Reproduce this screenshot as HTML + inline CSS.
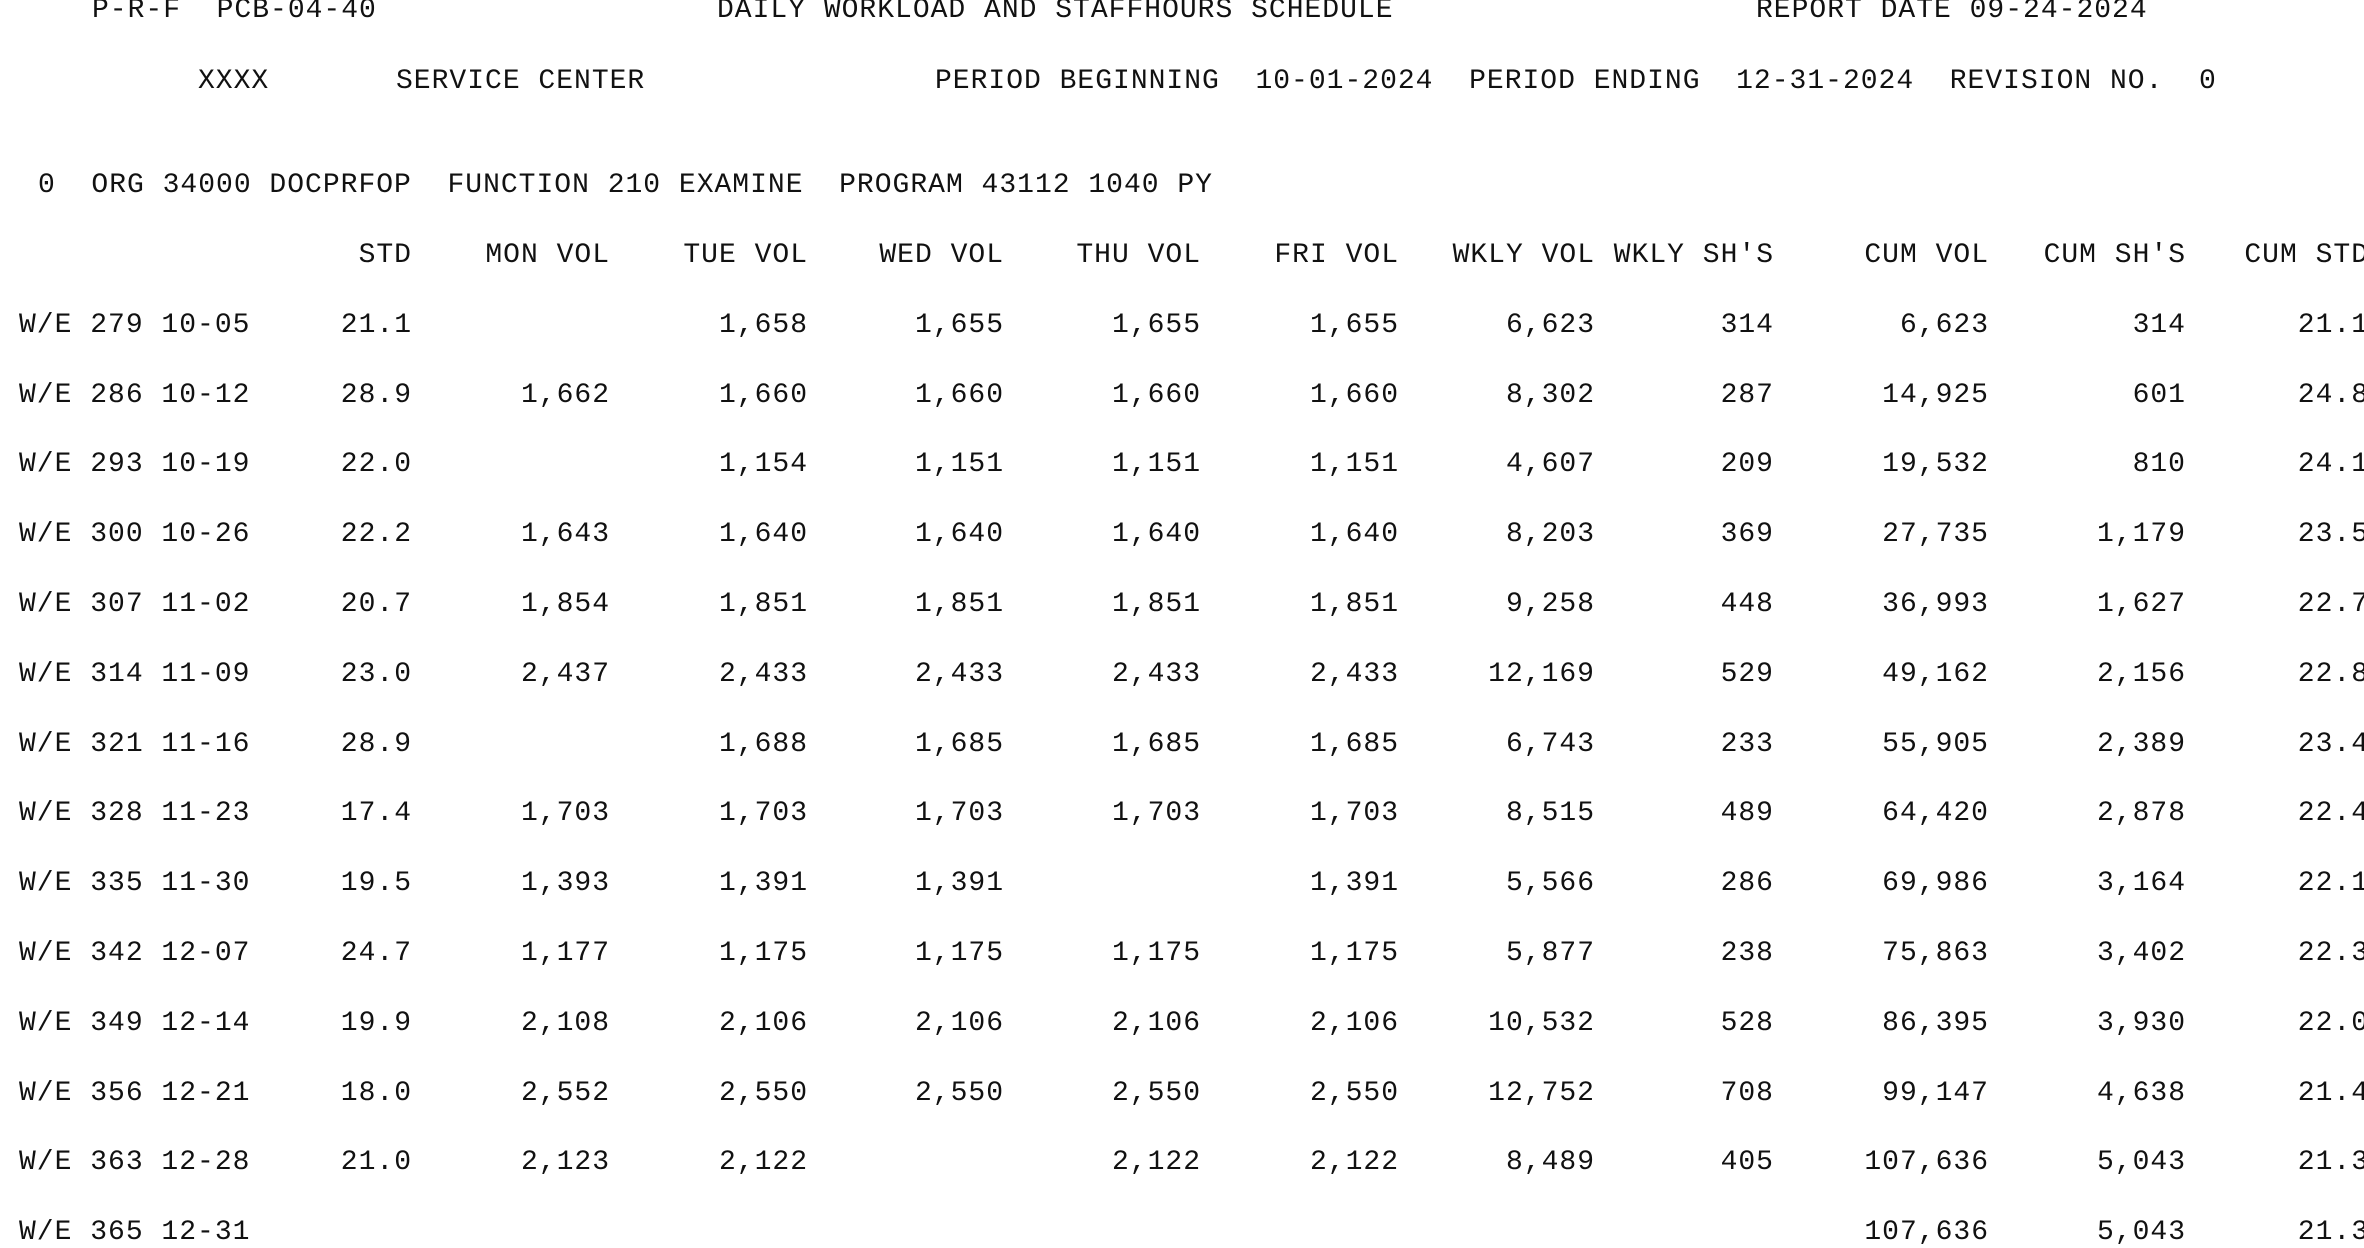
<!DOCTYPE html>
<html><head><meta charset="utf-8"><style>
html,body{margin:0;padding:0;background:#fff;}
body{width:2364px;height:1246px;position:relative;overflow:hidden;font-family:"Liberation Mono",monospace;font-size:28px;letter-spacing:1px;color:#111;}
.r{position:absolute;left:0;width:2364px;height:30px;line-height:30px;white-space:pre;}
.r span{position:absolute;top:0;}
.l0{left:19px}
.c1{right:1952px}.c2{right:1754px}.c3{right:1556px}.c4{right:1360px}.c5{right:1163px}.c6{right:965px}.c7{right:769px}.c8{right:590px}.c9{right:375px}.c10{right:178px}.c11{right:-5px}
</style></head><body>
<div class="r" style="top:-4px"><span style="left:92px">P-R-F  PCB-04-40</span><span style="left:717px">DAILY WORKLOAD AND STAFFHOURS SCHEDULE</span><span style="left:1756px">REPORT DATE 09-24-2024</span></div>
<div class="r" style="top:67px"><span style="left:198px">XXXX</span><span style="left:396px">SERVICE CENTER</span><span style="left:935px">PERIOD BEGINNING  10-01-2024  PERIOD ENDING  12-31-2024  REVISION NO.  0</span></div>
<div class="r" style="top:171px"><span style="left:38px">0  ORG 34000 DOCPRFOP  FUNCTION 210 EXAMINE  PROGRAM 43112 1040 PY</span></div>
<div class="r" style="top:241px"><span class="c1">STD</span><span class="c2">MON VOL</span><span class="c3">TUE VOL</span><span class="c4">WED VOL</span><span class="c5">THU VOL</span><span class="c6">FRI VOL</span><span class="c7">WKLY VOL</span><span class="c8">WKLY SH'S</span><span class="c9">CUM VOL</span><span class="c10">CUM SH'S</span><span class="c11">CUM STD</span></div>

<div class="r" style="top:311px"><span class="l0">W/E 279 10-05</span><span class="c1">21.1</span><span class="c3">1,658</span><span class="c4">1,655</span><span class="c5">1,655</span><span class="c6">1,655</span><span class="c7">6,623</span><span class="c8">314</span><span class="c9">6,623</span><span class="c10">314</span><span class="c11">21.1</span></div>
<div class="r" style="top:381px"><span class="l0">W/E 286 10-12</span><span class="c1">28.9</span><span class="c2">1,662</span><span class="c3">1,660</span><span class="c4">1,660</span><span class="c5">1,660</span><span class="c6">1,660</span><span class="c7">8,302</span><span class="c8">287</span><span class="c9">14,925</span><span class="c10">601</span><span class="c11">24.8</span></div>
<div class="r" style="top:450px"><span class="l0">W/E 293 10-19</span><span class="c1">22.0</span><span class="c3">1,154</span><span class="c4">1,151</span><span class="c5">1,151</span><span class="c6">1,151</span><span class="c7">4,607</span><span class="c8">209</span><span class="c9">19,532</span><span class="c10">810</span><span class="c11">24.1</span></div>
<div class="r" style="top:520px"><span class="l0">W/E 300 10-26</span><span class="c1">22.2</span><span class="c2">1,643</span><span class="c3">1,640</span><span class="c4">1,640</span><span class="c5">1,640</span><span class="c6">1,640</span><span class="c7">8,203</span><span class="c8">369</span><span class="c9">27,735</span><span class="c10">1,179</span><span class="c11">23.5</span></div>
<div class="r" style="top:590px"><span class="l0">W/E 307 11-02</span><span class="c1">20.7</span><span class="c2">1,854</span><span class="c3">1,851</span><span class="c4">1,851</span><span class="c5">1,851</span><span class="c6">1,851</span><span class="c7">9,258</span><span class="c8">448</span><span class="c9">36,993</span><span class="c10">1,627</span><span class="c11">22.7</span></div>
<div class="r" style="top:660px"><span class="l0">W/E 314 11-09</span><span class="c1">23.0</span><span class="c2">2,437</span><span class="c3">2,433</span><span class="c4">2,433</span><span class="c5">2,433</span><span class="c6">2,433</span><span class="c7">12,169</span><span class="c8">529</span><span class="c9">49,162</span><span class="c10">2,156</span><span class="c11">22.8</span></div>
<div class="r" style="top:730px"><span class="l0">W/E 321 11-16</span><span class="c1">28.9</span><span class="c3">1,688</span><span class="c4">1,685</span><span class="c5">1,685</span><span class="c6">1,685</span><span class="c7">6,743</span><span class="c8">233</span><span class="c9">55,905</span><span class="c10">2,389</span><span class="c11">23.4</span></div>
<div class="r" style="top:799px"><span class="l0">W/E 328 11-23</span><span class="c1">17.4</span><span class="c2">1,703</span><span class="c3">1,703</span><span class="c4">1,703</span><span class="c5">1,703</span><span class="c6">1,703</span><span class="c7">8,515</span><span class="c8">489</span><span class="c9">64,420</span><span class="c10">2,878</span><span class="c11">22.4</span></div>
<div class="r" style="top:869px"><span class="l0">W/E 335 11-30</span><span class="c1">19.5</span><span class="c2">1,393</span><span class="c3">1,391</span><span class="c4">1,391</span><span class="c6">1,391</span><span class="c7">5,566</span><span class="c8">286</span><span class="c9">69,986</span><span class="c10">3,164</span><span class="c11">22.1</span></div>
<div class="r" style="top:939px"><span class="l0">W/E 342 12-07</span><span class="c1">24.7</span><span class="c2">1,177</span><span class="c3">1,175</span><span class="c4">1,175</span><span class="c5">1,175</span><span class="c6">1,175</span><span class="c7">5,877</span><span class="c8">238</span><span class="c9">75,863</span><span class="c10">3,402</span><span class="c11">22.3</span></div>
<div class="r" style="top:1009px"><span class="l0">W/E 349 12-14</span><span class="c1">19.9</span><span class="c2">2,108</span><span class="c3">2,106</span><span class="c4">2,106</span><span class="c5">2,106</span><span class="c6">2,106</span><span class="c7">10,532</span><span class="c8">528</span><span class="c9">86,395</span><span class="c10">3,930</span><span class="c11">22.0</span></div>
<div class="r" style="top:1079px"><span class="l0">W/E 356 12-21</span><span class="c1">18.0</span><span class="c2">2,552</span><span class="c3">2,550</span><span class="c4">2,550</span><span class="c5">2,550</span><span class="c6">2,550</span><span class="c7">12,752</span><span class="c8">708</span><span class="c9">99,147</span><span class="c10">4,638</span><span class="c11">21.4</span></div>
<div class="r" style="top:1148px"><span class="l0">W/E 363 12-28</span><span class="c1">21.0</span><span class="c2">2,123</span><span class="c3">2,122</span><span class="c5">2,122</span><span class="c6">2,122</span><span class="c7">8,489</span><span class="c8">405</span><span class="c9">107,636</span><span class="c10">5,043</span><span class="c11">21.3</span></div>
<div class="r" style="top:1218px"><span class="l0">W/E 365 12-31</span><span class="c9">107,636</span><span class="c10">5,043</span><span class="c11">21.3</span></div>
</body></html>
